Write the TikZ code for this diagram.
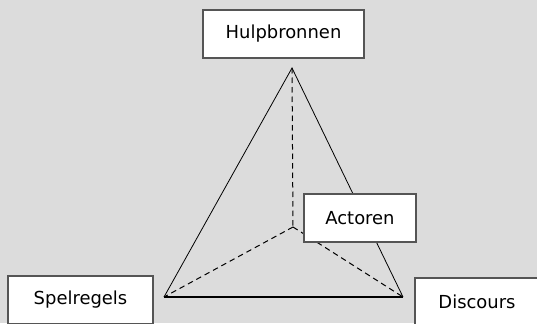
\documentclass[tikz,border=0pt]{standalone}
\usepackage{fontspec}
\setmainfont{DejaVu Sans}
\definecolor{bggray}{RGB}{220, 220, 220}
\definecolor{boxline}{RGB}{85, 85, 85}
\definecolor{baseline}{RGB}{110, 110, 110}
\usetikzlibrary{positioning}

\begin{document}
\begin{tikzpicture}[x=1bp, y=1bp,
    termbox/.style={draw=boxline, fill=white, line width=1.4bp, minimum height=48bp, inner sep=0pt, font=\fontsize{18}{21}\selectfont},
    edge/.style={black, line width=0.8bp},
    hidden/.style={black, line width=1bp, dash pattern=on 5.5bp off 4bp}]
  \fill[bggray] (0,0) rectangle (537,323);
  \useasboundingbox (0,0) rectangle (537,323);
  \clip (0,0) rectangle (537,323);

  % corners of the pyramid
  \coordinate (top) at (292, 255);
  \coordinate (left) at (164, 26);
  \coordinate (right) at (403, 26);
  \coordinate (mid) at (293, 96);

  % hidden edges
  \draw[hidden] (top) -- (mid);
  \draw[hidden] (mid) -- (left);
  \draw[hidden] (mid) -- (right);

  % visible edges
  \draw[edge] (left) -- (top) -- (right);
  \draw[baseline, line width=2.2bp] (left) -- (right);

  % labels
  \node[termbox, minimum width=161bp] (hulp) at (283.5, 289) {Hulpbronnen};
  \node[termbox, minimum width=112bp] (actor) at (360, 105) {Actoren};
  \node[termbox, minimum width=145bp] (spel) at (80.5, 23) {Spelregels};
  \node[termbox, minimum width=124bp] (disc) at (477, 21) {Discours};
\end{tikzpicture}
\end{document}
